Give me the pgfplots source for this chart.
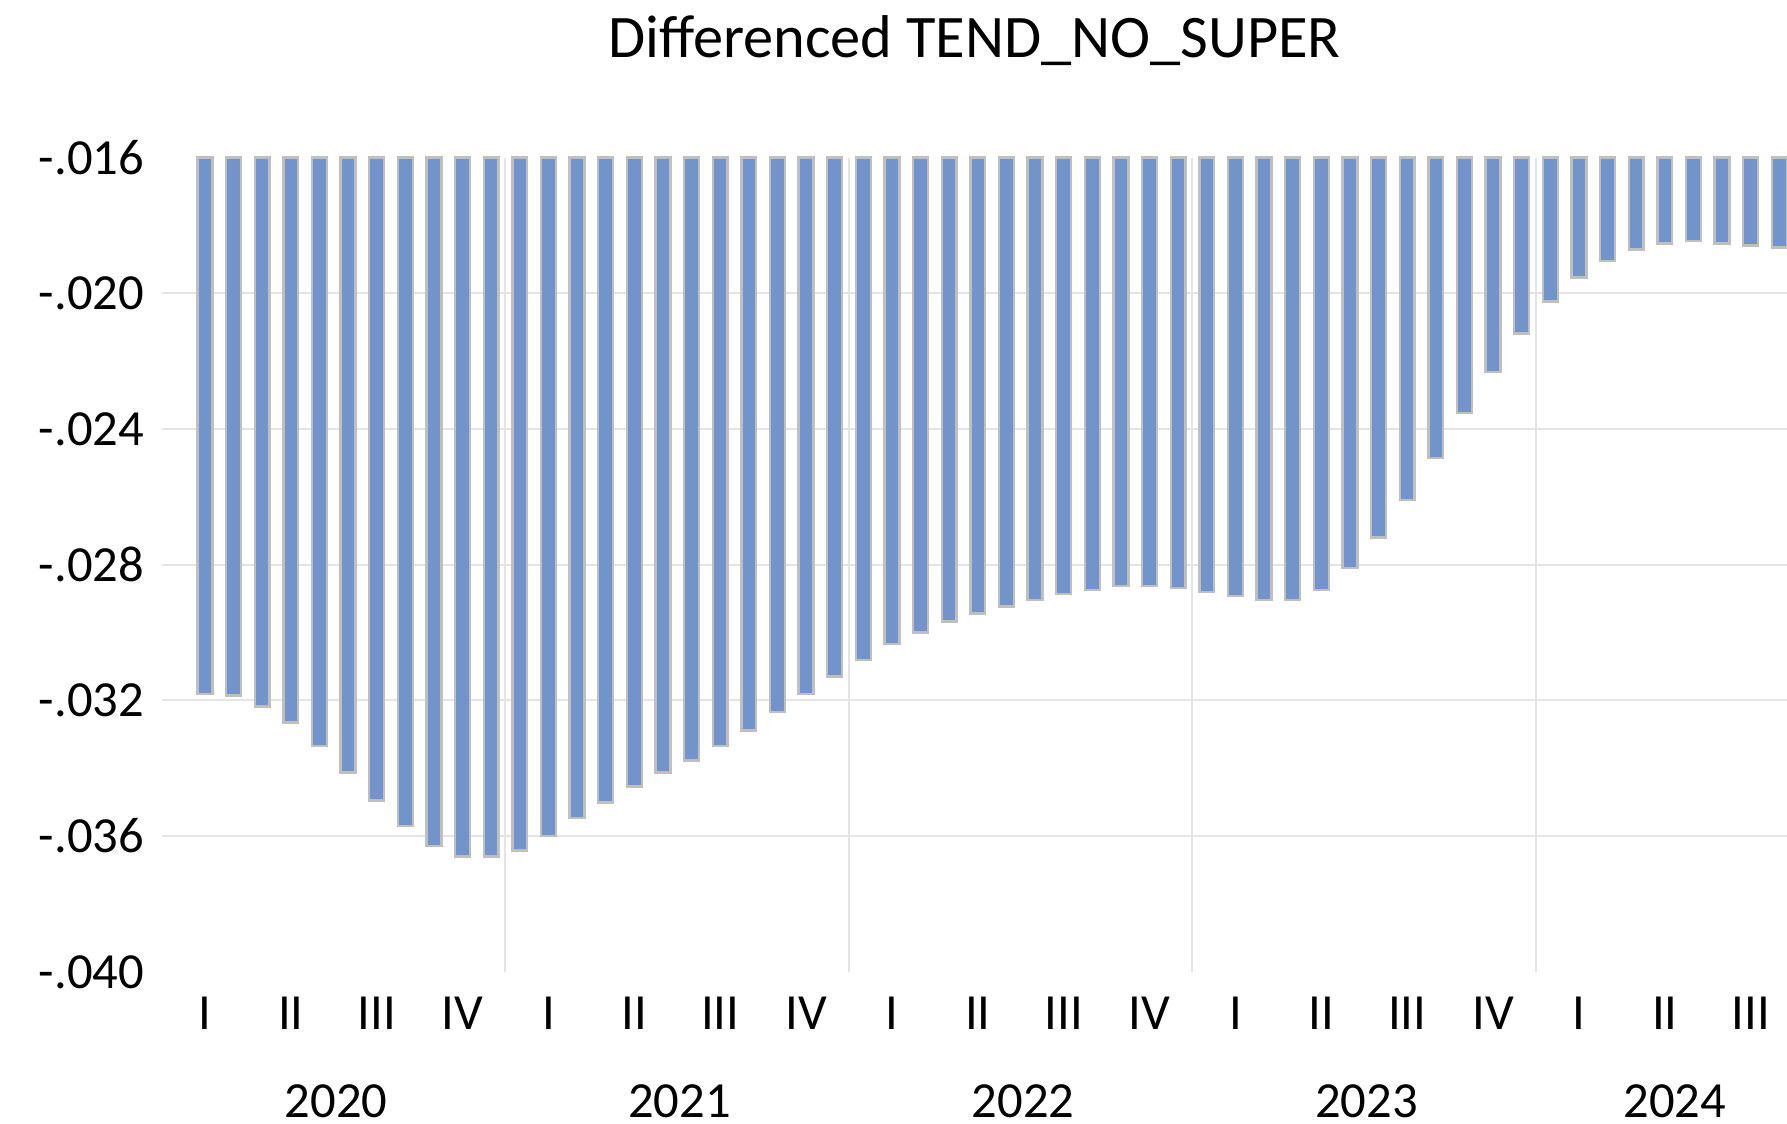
\documentclass[border=0pt]{standalone}
\usepackage{fontspec}
\setmainfont{Carlito}
\usepackage{pgfplots}
\pgfplotsset{compat=1.18}
\definecolor{barfill}{HTML}{7294CB}
\definecolor{baredge}{HTML}{BFBFBF}
\definecolor{gridc}{HTML}{E4E4E4}
\begin{document}
\begin{tikzpicture}
\begin{axis}[
  scale only axis,
  width=406.25pt, height=203.55pt,
  xmin=-0.5, xmax=56.27,
  ymin=-0.024, ymax=0,
  clip=false,
  scaled y ticks=false,
  scaled x ticks=false,
  axis line style={draw=none},
  tick style={draw=none},
  major tick length=0pt,
  ytick={-0.020,-0.016,-0.012,-0.008,-0.004},
  yticklabels={-.036,-.032,-.028,-.024,-.020},
  extra y ticks={-0.024,0},
  extra y tick labels={-.040,-.016},
  extra y tick style={grid=none},
  ymajorgrids=true,
  major grid style={gridc, line width=0.5pt},
  minor xtick={11.5,23.5,35.5,47.5},
  xminorgrids=true,
  minor grid style={gridc, line width=0.5pt},
  xtick={1,4,7,10,13,16,19,22,25,28,31,34,37,40,43,46,49,52,55},
  xticklabels={I,II,III,IV,I,II,III,IV,I,II,III,IV,I,II,III,IV,I,II,III},
  extra x ticks={5.58,17.58,29.58,41.58,52.35},
  extra x tick labels={2020,2021,2022,2023,2024},
  extra x tick style={xticklabel style={yshift=-22pt}},
  tick label style={font=\fontsize{12.65}{14}\selectfont},
  yticklabel style={anchor=east, inner sep=0pt, xshift=-4.3pt},
  xticklabel style={anchor=base, inner sep=0pt, yshift=-14.3pt},
]
\addplot[ybar, bar width=0.52, fill=barfill, draw=baredge, line width=0.6pt,
  y filter/.expression={y+0.016}] coordinates {
(1,-0.03182) (2,-0.03186) (3,-0.03218) (4,-0.03265) (5,-0.03335) (6,-0.03412)
(7,-0.03495) (8,-0.03571) (9,-0.03630) (10,-0.03660) (11,-0.03660) (12,-0.03642)
(13,-0.03600) (14,-0.03547) (15,-0.03501) (16,-0.03454) (17,-0.03412) (18,-0.03377)
(19,-0.03335) (20,-0.03289) (21,-0.03235) (22,-0.03182) (23,-0.03129) (24,-0.03081)
(25,-0.03034) (26,-0.03000) (27,-0.02968) (28,-0.02944) (29,-0.02923) (30,-0.02904)
(31,-0.02886) (32,-0.02874) (33,-0.02863) (34,-0.02863) (35,-0.02869) (36,-0.02880)
(37,-0.02892) (38,-0.02904) (39,-0.02904) (40,-0.02874) (41,-0.02809) (42,-0.02720)
(43,-0.02609) (44,-0.02486) (45,-0.02353) (46,-0.02232) (47,-0.02119) (48,-0.02024)
(49,-0.01953) (50,-0.01905) (51,-0.01871) (52,-0.01853) (53,-0.01845) (54,-0.01853)
(55,-0.01859) (56,-0.01865)
};
\node[anchor=base, font=\fontsize{15.1}{18}\selectfont, inner sep=0pt] at (rel axis cs:0.5,1) [yshift=25pt] {Differenced TEND\_NO\_SUPER};
\end{axis}
\pgfresetboundingbox
\useasboundingbox (-40.5pt,-38pt) rectangle (406.25pt,242.95pt);
\end{tikzpicture}
\end{document}
